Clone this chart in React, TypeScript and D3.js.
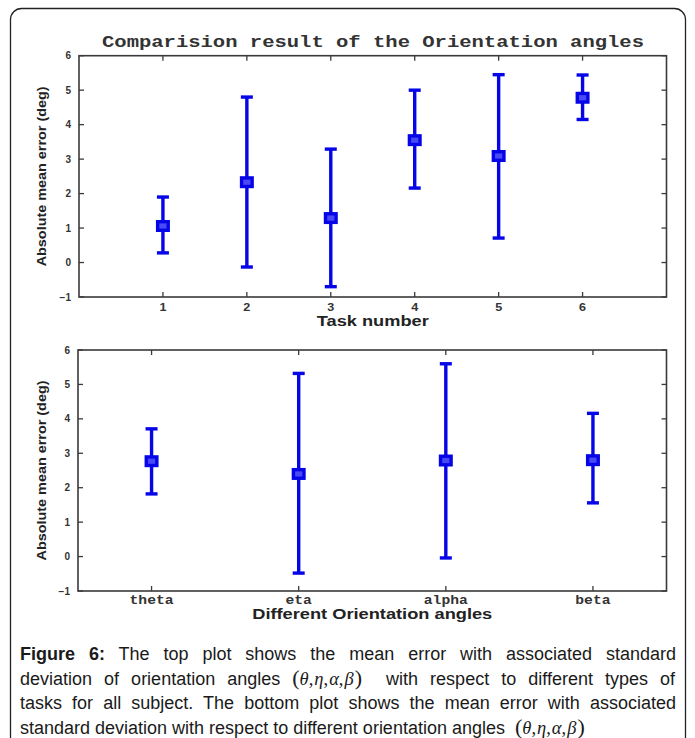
import React, { useLayoutEffect, useRef, useState } from "react";
import * as d3 from "d3";

// top panel: error per task
const tasks = [1, 2, 3, 4, 5, 6];
const taskMean = [1.06, 2.33, 1.29, 3.55, 3.09, 4.78];
const taskUpper = [1.9, 4.8, 3.29, 5.0, 5.45, 5.44];
const taskLower = [0.28, -0.13, -0.7, 2.16, 0.71, 4.15];

// bottom panel: error per orientation angle
const angles = ["theta", "eta", "alpha", "beta"];
const angleMean = [2.77, 2.4, 2.79, 2.8];
const angleUpper = [3.71, 5.32, 5.6, 4.16];
const angleLower = [1.82, -0.48, -0.04, 1.56];

const yTicks = [-1, 0, 1, 2, 3, 4, 5, 6];

const blue = "#0505e8";
const axisColor = "#3a3a3a";
const sans = "'Liberation Sans', Arial, sans-serif";
const mono = "'Liberation Mono', 'Courier New', monospace";
const serif = "'Liberation Serif', 'Times New Roman', serif";

type PanelProps = {
  xScale: d3.ScaleLinear<number, number>;
  yScale: d3.ScaleLinear<number, number>;
  pos: number[];
  labels: string[];
  mean: number[];
  upper: number[];
  lower: number[];
  catFont: string;
  catSize: number;
  charW: number;
  catDy: number;
  xLabel: string;
  xLabelW: number;
  xLabelDy: number;
  yLabel: string;
};

function Panel(p: PanelProps) {
  const [x0, x1] = p.xScale.range();
  const [yb, yt] = p.yScale.range();
  const tk = 5;
  const midY = (yb + yt) / 2;
  return (
    <g>
      <text
        transform={`translate(46,${midY}) rotate(-90)`}
        textAnchor="middle"
        fontFamily={sans}
        fontWeight="bold"
        fontSize={13}
        fill="#222"
        textLength={180}
        lengthAdjust="spacingAndGlyphs"
      >
        {p.yLabel}
      </text>
      {yTicks.map((t) => (
        <g key={t}>
          <line x1={x0} x2={x0 + tk} y1={p.yScale(t)} y2={p.yScale(t)} stroke={axisColor} strokeWidth={1.3} />
          <line x1={x1} x2={x1 - tk} y1={p.yScale(t)} y2={p.yScale(t)} stroke={axisColor} strokeWidth={1.3} />
          <text x={x0 - 8} y={p.yScale(t) + 3.5} textAnchor="end" fontFamily={sans} fontWeight="bold" fontSize={10} fill="#333">
            {t < 0 ? "\u2212" + Math.abs(t) : t}
          </text>
        </g>
      ))}
      {p.pos.map((c, i) => (
        <g key={c}>
          <line x1={p.xScale(c)} x2={p.xScale(c)} y1={yb} y2={yb - tk} stroke={axisColor} strokeWidth={1.3} />
          <line x1={p.xScale(c)} x2={p.xScale(c)} y1={yt} y2={yt + tk} stroke={axisColor} strokeWidth={1.3} />
          <text
            x={p.xScale(c)}
            y={yb + p.catDy}
            textAnchor="middle"
            fontFamily={p.catFont}
            fontWeight="bold"
            fontSize={p.catSize}
            fill="#333"
            textLength={p.labels[i].length * p.charW}
            lengthAdjust="spacingAndGlyphs"
          >
            {p.labels[i]}
          </text>
        </g>
      ))}
      <rect x={x0} y={yt} width={x1 - x0} height={yb - yt} fill="none" stroke={axisColor} strokeWidth={1.6} />
      <text
        x={(x0 + x1) / 2}
        y={yb + p.xLabelDy}
        textAnchor="middle"
        fontFamily={sans}
        fontWeight="bold"
        fontSize={14}
        fill="#222"
        textLength={p.xLabelW}
        lengthAdjust="spacingAndGlyphs"
      >
        {p.xLabel}
      </text>
      {p.pos.map((c, i) => {
        const cx = p.xScale(c);
        const capW = 6;
        return (
          <g key={"e" + c} stroke={blue}>
            <line x1={cx} x2={cx} y1={p.yScale(p.upper[i])} y2={p.yScale(p.lower[i])} strokeWidth={3.4} />
            <line x1={cx - capW} x2={cx + capW} y1={p.yScale(p.upper[i])} y2={p.yScale(p.upper[i])} strokeWidth={3.4} />
            <line x1={cx - capW} x2={cx + capW} y1={p.yScale(p.lower[i])} y2={p.yScale(p.lower[i])} strokeWidth={3.4} />
            <rect x={cx - 5.3} y={p.yScale(p.mean[i]) - 4.3} width={10.6} height={8.6} fill="#4a4af5" strokeWidth={3.4} />
          </g>
        );
      })}
    </g>
  );
}

type Seg = { t: string; bold?: boolean; math?: boolean };

function MathTs() {
  return (
    <tspan fontFamily={serif} fontSize={18.5}>
      <tspan fontSize={22}>(</tspan>
      <tspan fontStyle="italic">θ</tspan>,<tspan fontStyle="italic" dx={1}>η</tspan>,
      <tspan fontStyle="italic" dx={1}>α</tspan>,<tspan fontStyle="italic" dx={1}>β</tspan>
      <tspan fontSize={22} dx={1}>)</tspan>
    </tspan>
  );
}

function CaptionLine({ x, y, width, justify, segs }: { x: number; y: number; width: number; justify: boolean; segs: Seg[] }) {
  const ref = useRef<SVGTextElement>(null);
  const [ws, setWs] = useState(0);
  const [pass, setPass] = useState(0);
  const spaces = segs.filter((s) => !s.math).reduce((n, s) => n + (s.t.match(/ /g) || []).length, 0);
  useLayoutEffect(() => {
    if (!justify || !ref.current || pass > 3) return;
    const w = ref.current.getBBox().width;
    const diff = width - w;
    if (Math.abs(diff) > 0.5) {
      setWs((v) => Math.max(0, v + diff / spaces));
      setPass((n) => n + 1);
    }
  }, [pass]);
  return (
    <text
      ref={ref}
      x={x}
      y={y}
      fontFamily={sans}
      fontSize={18}
      fill="#1a1a1a"
      style={{ whiteSpace: "pre", wordSpacing: ws }}
    >
      {segs.map((s, i) =>
        s.math ? (
          <MathTs key={i} />
        ) : (
          <tspan key={i} fontWeight={s.bold ? "bold" : "normal"}>
            {s.t}
          </tspan>
        )
      )}
    </text>
  );
}

const captionLines: Seg[][] = [
  [{ t: "Figure 6:", bold: true }, { t: " The top plot shows the mean error with associated standard" }],
  [{ t: "deviation of orientation angles " }, { t: "", math: true }, { t: "  with respect to different types of" }],
  [{ t: "tasks for all subject. The bottom plot shows the mean error with associated" }],
  [{ t: "standard deviation with respect to different orientation angles  " }, { t: "", math: true }],
];

export default function App() {
  const xTop = d3.scaleLinear().domain([0, 7]).range([79, 666.5]);
  const yTop = d3.scaleLinear().domain([-1, 6]).range([297, 55.7]);
  const xBot = d3.scaleLinear().domain([0.5, 4.5]).range([78, 666.5]);
  const yBot = d3.scaleLinear().domain([-1, 6]).range([591, 350]);

  return (
    <svg width={695} height={738} style={{ position: "absolute", left: 0, top: 0, background: "#fff" }}>
      <rect x={10.5} y={8.5} width={675} height={780} rx={11} fill="#fff" stroke="#222" strokeWidth={1.3} />
      <text
        x={373}
        y={47}
        textAnchor="middle"
        fontFamily={mono}
        fontWeight="bold"
        fontSize={16}
        fill="#333"
        textLength={542}
        lengthAdjust="spacingAndGlyphs"
      >
        Comparision result of the Orientation angles
      </text>
      <Panel
        xScale={xTop}
        yScale={yTop}
        pos={tasks}
        labels={tasks.map(String)}
        mean={taskMean}
        upper={taskUpper}
        lower={taskLower}
        catFont={sans}
        catSize={10}
        charW={7}
        catDy={14}
        xLabel="Task number"
        xLabelW={112}
        xLabelDy={29}
        yLabel="Absolute mean error (deg)"
      />
      <Panel
        xScale={xBot}
        yScale={yBot}
        pos={angles.map((_, i) => i + 1)}
        labels={angles}
        mean={angleMean}
        upper={angleUpper}
        lower={angleLower}
        catFont={mono}
        catSize={12}
        charW={8.8}
        catDy={12.5}
        xLabel="Different Orientation angles"
        xLabelW={240}
        xLabelDy={28}
        yLabel="Absolute mean error (deg)"
      />
      {captionLines.map((segs, i) => (
        <CaptionLine key={i} x={20} y={660 + i * 24.5} width={656} justify={i < 3} segs={segs} />
      ))}
    </svg>
  );
}
